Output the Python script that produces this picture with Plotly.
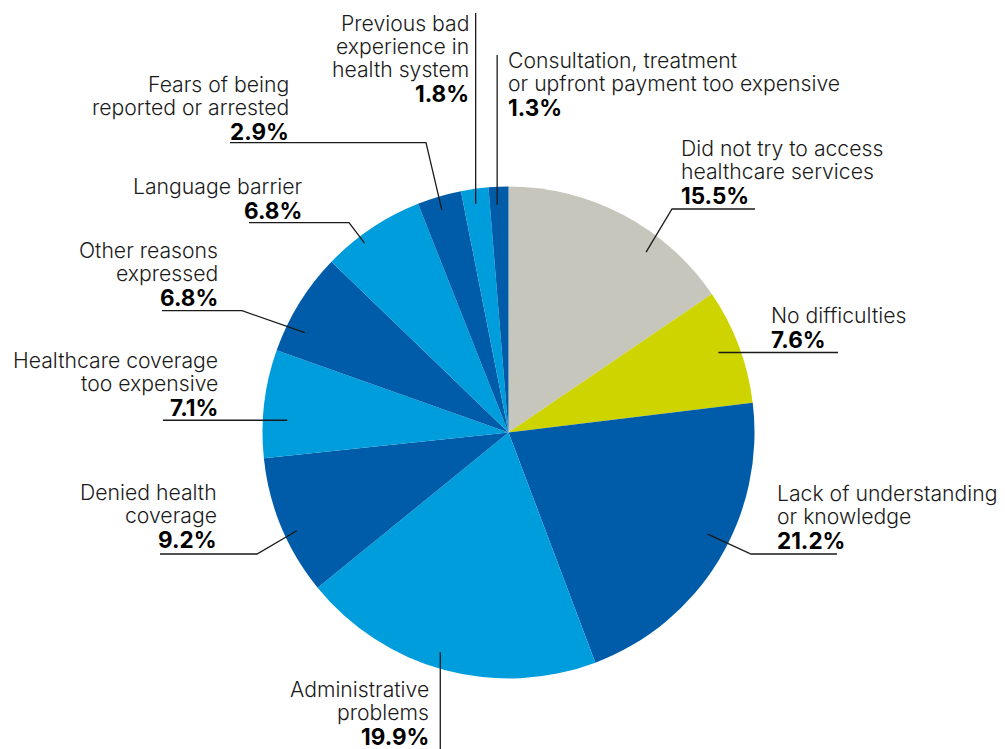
import math
import plotly.graph_objects as go

W, H = 1005, 749

# ---------------- data ----------------
categories = [
    "Did not try to access healthcare services",
    "No difficulties",
    "Lack of understanding or knowledge",
    "Administrative problems",
    "Denied health coverage",
    "Healthcare coverage too expensive",
    "Other reasons expressed",
    "Language barrier",
    "Fears of being reported or arrested",
    "Previous bad experience in health system",
    "Consultation, treatment or upfront payment too expensive",
]
values = [15.5, 7.6, 21.2, 19.9, 9.2, 7.1, 6.8, 6.8, 2.9, 1.8, 1.3]
label_lines = [
    ["Did not try to access", "healthcare services"],
    ["No difficulties"],
    ["Lack of understanding", "or knowledge"],
    ["Administrative", "problems"],
    ["Denied health", "coverage"],
    ["Healthcare coverage", "too expensive"],
    ["Other reasons", "expressed"],
    ["Language barrier"],
    ["Fears of being", "reported or arrested"],
    ["Previous bad", "experience in", "health system"],
    ["Consultation, treatment", "or upfront payment too expensive"],
]

# ---------------- style / layout ----------------
GRAY, LIME, DARK, LIGHT = "#c6c6bc", "#cdd400", "#005ca9", "#009ddc"
slice_colors = [GRAY, LIME, DARK, LIGHT, DARK, LIGHT, DARK, LIGHT, DARK, LIGHT, DARK]
INK = "#1a1a1a"
FONT = "Inter, Liberation Sans, Arial, sans-serif"
REG_SIZE, BOLD_SIZE = 21.2, 22.5
REG_STEP, BOLD_STEP = 23, 24.5
OFF = 8  # page body margin compensation (screen px -> figure px)

CX, CY, R = 508.5, 432.5, 246.0   # pie centre / radius in screen pixels

# callout layout: f = fraction across slice, rf = radius fraction of inner point,
# path = following points (None -> keep previous coordinate), tx = text x, base = bold baseline
callouts = [
    dict(f=0.67, rf=0.922, path=[(672, 209), (755, 209)], tx=681, align="left", base=203),
    dict(f=0.49, rf=0.913, path=[(838, None)], tx=771, align="left", base=347),
    dict(f=0.445, rf=0.909, path=[(751, 554), (837, 554)], tx=777, align="left", base=548),
    dict(f=0.53, rf=0.935, path=[(None, 760)], tx=429, align="right", base=744),
    dict(f=0.43, rf=0.949, path=[(257, 554), (160, 554)], tx=217, align="right", base=547),
    dict(f=0.36, rf=0.901, path=[(163, None)], tx=218, align="right", base=415),
    dict(f=0.27, rf=0.922, path=[(242, 310.7), (162, 310.7)], tx=218, align="right", base=305),
    dict(f=0.36, rf=0.967, path=[(349, 222.7), (249, 222.7)], tx=302, align="right", base=218),
    dict(f=0.47, rf=0.944, path=[(426, 142.7), (230, 142.7)], tx=289, align="right", base=139),
    dict(f=0.46, rf=0.939, path=[(None, 13)], tx=469, align="right", base=101),
    dict(f=0.39, rf=0.927, path=[(None, 55)], tx=508, align="left", base=115),
]


def px(x):
    return (x - OFF) / W


def py(y):
    return 1 - (y - OFF) / H


fig = go.Figure()
fig.add_trace(go.Pie(
    labels=categories, values=values, sort=False, direction="clockwise", rotation=0,
    marker=dict(colors=slice_colors, line=dict(width=0)),
    textinfo="none", hoverinfo="label+percent", showlegend=False,
    domain=dict(x=[px(CX - R), px(CX + R)], y=[py(CY + R), py(CY - R)]),
))

total = sum(values)
cum = 0.0
shapes, annotations = [], []
for i, v in enumerate(values):
    a0 = 360 * cum / total
    a1 = 360 * (cum + v) / total
    cum += v
    c = callouts[i]
    ang = math.radians(a0 + c["f"] * (a1 - a0))
    r = c["rf"] * R
    pts = [(CX + r * math.sin(ang), CY - r * math.cos(ang))]
    for (x, y) in c["path"]:
        lx, ly = pts[-1]
        pts.append((lx if x is None else x, ly if y is None else y))
    path = "M " + " L ".join(f"{px(x):.5f},{py(y):.5f}" for x, y in pts)
    shapes.append(dict(type="path", xref="paper", yref="paper", path=path,
                       line=dict(color=INK, width=1.3), layer="above"))

    # text lines
    lines = label_lines[i]
    bold_base = c["base"]
    bases = []
    b = bold_base - BOLD_STEP
    for _ in lines:
        bases.insert(0, b)
        b -= REG_STEP
    for txt, bl in zip(lines, bases):
        annotations.append(dict(
            xref="paper", yref="paper", x=px(c["tx"]), y=py(bl - 0.35 * REG_SIZE),
            xanchor=c["align"], yanchor="middle", align=c["align"], showarrow=False,
            text=txt, borderpad=0, borderwidth=0,
            font=dict(family=FONT, size=REG_SIZE, color=INK, weight=300),
        ))
    annotations.append(dict(
        xref="paper", yref="paper", x=px(c["tx"]), y=py(bold_base - 0.35 * BOLD_SIZE),
        xanchor=c["align"], yanchor="middle", align=c["align"], showarrow=False,
        text=f"<b>{v}%</b>", borderpad=0, borderwidth=0,
        font=dict(family=FONT, size=BOLD_SIZE, color="#000000", weight=700),
    ))

fig.update_layout(
    width=W, height=H, margin=dict(l=0, r=0, t=0, b=0),
    paper_bgcolor="white", plot_bgcolor="white",
    shapes=shapes, annotations=annotations, showlegend=False,
)

fig.write_html("out.html")
